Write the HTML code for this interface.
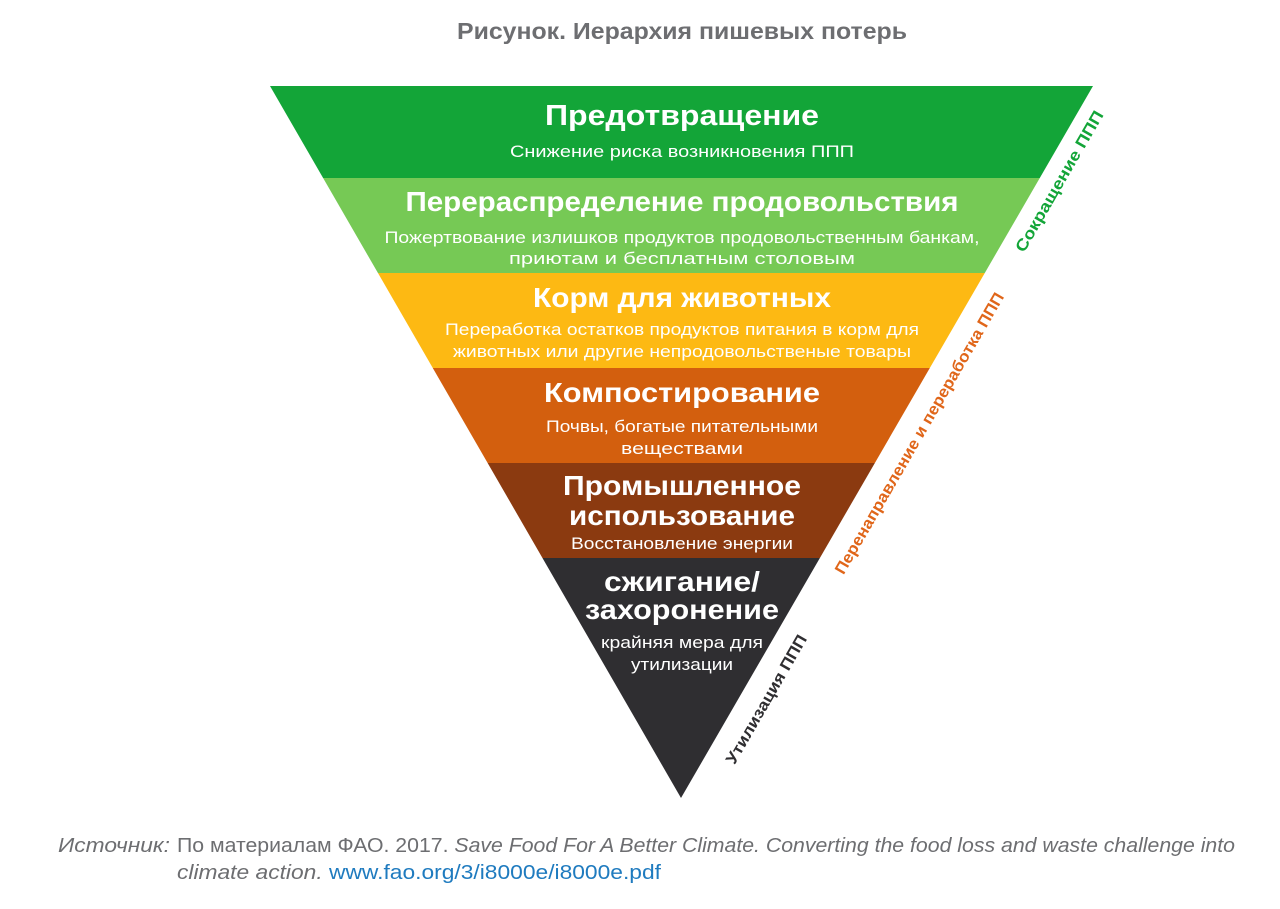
<!DOCTYPE html>
<html><head><meta charset="utf-8"><style>
html,body{margin:0;padding:0;background:#fff;width:1280px;height:909px;overflow:hidden}
svg{display:block}
</style></head><body>
<svg width="1280" height="909" xmlns="http://www.w3.org/2000/svg" font-family="Liberation Sans, DejaVu Sans, sans-serif">
<defs><clipPath id="tri"><polygon points="270,86 1093,86 681,798"/></clipPath></defs>
<text x="682" y="39" text-anchor="middle" font-size="23" font-weight="bold" fill="#6d6e71" textLength="450" lengthAdjust="spacingAndGlyphs">Рисунок. Иерархия пишевых потерь</text>
<g clip-path="url(#tri)">
<rect x="260" y="86" width="840" height="92" fill="#13a538"/>
<rect x="260" y="178" width="840" height="95" fill="#76c955"/>
<rect x="260" y="273" width="840" height="95" fill="#fdb913"/>
<rect x="260" y="368" width="840" height="95" fill="#d35f0e"/>
<rect x="260" y="463" width="840" height="95" fill="#8b3a10"/>
<rect x="260" y="558" width="840" height="250" fill="#2f2e31"/>
</g>
<g fill="#fff" text-anchor="middle" lengthAdjust="spacingAndGlyphs">
<text x="682" y="125" font-size="29" font-weight="bold" textLength="274" lengthAdjust="spacingAndGlyphs">Предотвращение</text>
<text x="682" y="157" font-size="17" textLength="344" lengthAdjust="spacingAndGlyphs">Снижение риска возникновения ППП</text>
<text x="682" y="211" font-size="28" font-weight="bold" textLength="553" lengthAdjust="spacingAndGlyphs">Перераспределение продовольствия</text>
<text x="682" y="243" font-size="17" textLength="595" lengthAdjust="spacingAndGlyphs">Пожертвование излишков продуктов продовольственным банкам,</text>
<text x="682" y="264" font-size="17" textLength="346" lengthAdjust="spacingAndGlyphs">приютам и бесплатным столовым</text>
<text x="682" y="307" font-size="28" font-weight="bold" textLength="298" lengthAdjust="spacingAndGlyphs">Корм для животных</text>
<text x="682" y="335" font-size="17" textLength="474" lengthAdjust="spacingAndGlyphs">Переработка остатков продуктов питания в корм для</text>
<text x="682" y="357" font-size="17" textLength="458" lengthAdjust="spacingAndGlyphs">животных или другие непродовольственые товары</text>
<text x="682" y="402" font-size="28" font-weight="bold" textLength="276" lengthAdjust="spacingAndGlyphs">Компостирование</text>
<text x="682" y="432" font-size="17" textLength="272" lengthAdjust="spacingAndGlyphs">Почвы, богатые питательными</text>
<text x="682" y="454" font-size="17" textLength="122" lengthAdjust="spacingAndGlyphs">веществами</text>
<text x="682" y="495" font-size="28" font-weight="bold" textLength="238" lengthAdjust="spacingAndGlyphs">Промышленное</text>
<text x="682" y="525" font-size="28" font-weight="bold" textLength="226" lengthAdjust="spacingAndGlyphs">использование</text>
<text x="682" y="549" font-size="17" textLength="222" lengthAdjust="spacingAndGlyphs">Восстановление энергии</text>
<text x="682" y="591" font-size="28" font-weight="bold" textLength="156" lengthAdjust="spacingAndGlyphs">сжигание/</text>
<text x="682" y="619" font-size="28" font-weight="bold" textLength="194" lengthAdjust="spacingAndGlyphs">захоронение</text>
<text x="682" y="648" font-size="17" textLength="162" lengthAdjust="spacingAndGlyphs">крайняя мера для</text>
<text x="682" y="670" font-size="17" textLength="102" lengthAdjust="spacingAndGlyphs">утилизации</text>
</g>
<g font-size="16" font-weight="bold" text-anchor="middle">
<text transform="translate(1064,184) rotate(-60)" fill="#13a538" textLength="160" lengthAdjust="spacingAndGlyphs">Сокращение ППП</text>
<text transform="translate(924,436) rotate(-60)" fill="#e0661a" textLength="322" lengthAdjust="spacingAndGlyphs">Перенаправление и переработка ППП</text>
<text transform="translate(771,702) rotate(-60)" fill="#2f2e31" textLength="146" lengthAdjust="spacingAndGlyphs">Утилизация ППП</text>
</g>
<g font-size="20" fill="#6d6e71">
<text x="58" y="852" font-style="italic" textLength="112" lengthAdjust="spacingAndGlyphs">Источник:</text>
<text x="177" y="852" textLength="1058" lengthAdjust="spacingAndGlyphs">По материалам ФАО. 2017.  <tspan font-style="italic">Save Food For A Better Climate. Converting the food loss and waste challenge into</tspan></text>
<text x="177" y="879" font-style="italic" textLength="484" lengthAdjust="spacingAndGlyphs">climate action. <tspan font-style="normal" fill="#1f7bbf">www.fao.org/3/i8000e/i8000e.pdf</tspan></text>
</g>
</svg>
</body></html>
